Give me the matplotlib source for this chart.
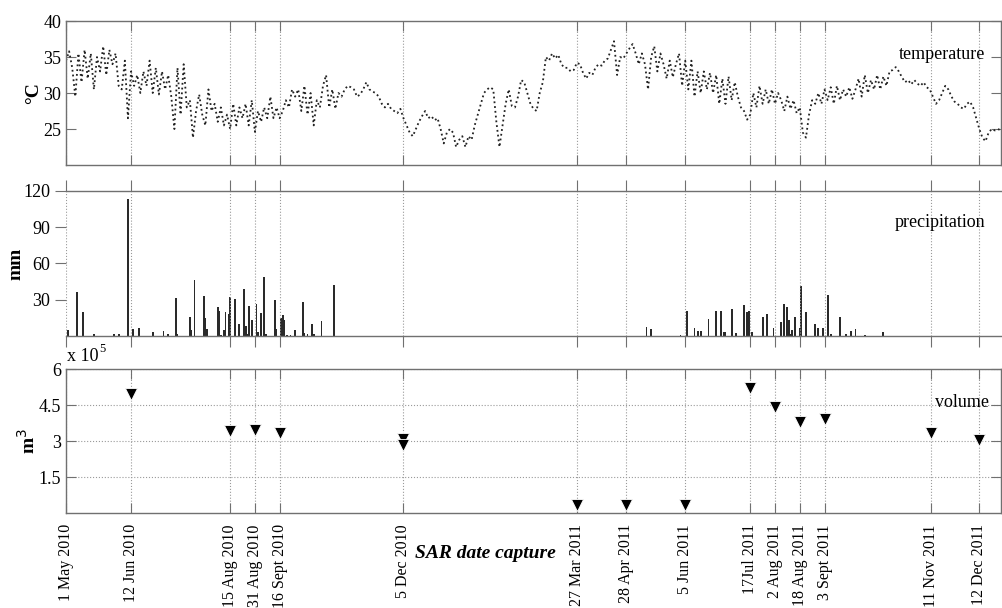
import matplotlib.pyplot as plt
import matplotlib.dates as mdates
import numpy as np
import pandas as pd

plt.rcParams['font.family'] = ['Liberation Serif', 'DejaVu Serif']

start = pd.Timestamp('2010-05-01')
end = pd.Timestamp('2011-12-26')

# SAR acquisition dates (x ticks)
tick_dates = ['2010-05-01', '2010-06-12', '2010-08-15', '2010-08-31', '2010-09-16',
              '2010-12-05', '2011-03-27', '2011-04-28', '2011-06-05', '2011-07-17',
              '2011-08-02', '2011-08-18', '2011-09-03', '2011-11-11', '2011-12-12']
tick_labels = ['1 May 2010', '12 Jun 2010', '15 Aug 2010', '31 Aug 2010', '16 Sept 2010',
               '5 Dec 2010', '27 Mar 2011', '28 Apr 2011', '5 Jun 2011', '17Jul 2011',
               '2 Aug 2011', '18 Aug 2011', '3 Sept 2011', '11 Nov 2011', '12 Dec 2011']

# temperature, one value every 2 days from 1 May 2010
temp_values = [34.5, 35.8, 33.5, 29.5, 35.5, 31.5, 36, 32, 35.5, 30.5,
               35, 33, 36.5, 32.5, 36, 34, 35.5, 31, 30.5, 34.5,
               26.5, 33, 31, 32.5, 30, 33, 31, 34.5, 30, 33.5, 29.8,
               33, 30.5, 32.5, 29.5, 25, 33.5, 27, 34, 28, 29, 23.8,
               27.5, 29.8, 27, 25.5, 30.5, 27.5, 28.5, 26, 28, 25.5, 27,
               25, 28.5, 25.5, 28, 26.5, 28.5, 25.5, 29, 24.6,
               27.5, 26, 28, 26.5, 29.5, 26.5, 28, 26.5,
               27.5, 29, 28, 30.5, 29.5, 30.5,
               27.5, 31, 27, 30, 25.5, 29, 28, 31, 32.5, 28,
               30.5, 27.8, 30, 29.5, 30.5, 31, 30.8, 30.5, 29.5, 29.8,
               30.5, 31.5, 30.5, 30.2, 30, 29.5, 28.5, 28, 28.5, 27.8, 27.5,
               27.2, 27.8, 26.5, 25.5, 24.5, 24, 25, 26, 26.8, 27.5,
               26.5, 26.8, 26.2, 26.5, 25, 23, 24.5, 25, 24.5,
               22.5, 23.5, 24, 22.5, 24, 23.5,
               25.5, 27, 28.5, 30, 30.5, 30.8, 30.5, 26, 22.5,
               25.5, 28.5, 30.5, 28.2, 28, 29.5, 31.8, 31.5, 30, 28.5, 27.8,
               27.5, 30, 31.5, 35, 34.5, 35.5, 34.8, 35.3,
               34, 33.5, 33.5, 33, 33.2, 34.2, 34, 32.8, 32, 32.8, 32.5,
               33.5, 34, 33.8, 34.5, 34.8, 36, 37.2, 32.5,
               35, 34.8, 35.5, 36.2, 36.8, 35.5, 34, 35.5, 34, 30.5,
               35, 36.5, 33, 35.5, 34, 32, 34.5, 32.2, 34,
               35.5, 31, 34.5, 30.5, 34.5, 29.5, 33,
               30, 33, 30.5, 32.8, 30, 32.5, 28.5, 32, 28.5, 32.3, 29,
               31.5, 29.5, 28, 27.5, 26.3, 27,
               30, 28, 31, 28.5, 30.5, 28.5, 30.5, 28.5, 30, 29,
               27.5, 29.5, 27.8, 29, 27.2, 28, 24.5, 23.8, 27,
               29, 28.5, 30, 28.5, 30.5, 29, 30.8, 28.5, 31, 29,
               30.5, 29.5, 30.8, 29.2, 30.5, 32, 29.5, 32.5, 30, 31.8, 30.5,
               32.5, 30.5, 32.3, 31, 33, 33.2, 33.6, 33,
               32.2, 31.5, 31.8, 31.2, 31.8, 31.3, 31, 31.5, 30.8, 30.5,
               29.5, 28.5, 29, 30, 31, 30.5, 29.5,
               28.8, 28.5, 28, 27.8, 28.5, 28.8, 28,
               26.5, 25, 23.8, 23.3, 24.5, 25, 24.8, 25, 24.8]

# precipitation events: day after 1 May 2010, mm
precip_day = [1, 7, 11, 18, 31, 34, 40, 43, 47, 56, 63, 66, 71, 72,
              80, 81, 83, 89, 90, 91, 98, 99, 100, 102, 103, 105, 106, 109,
              112, 115, 116, 117, 118, 120, 123, 124, 126, 128, 129,
              135, 136, 139, 140, 141, 143, 145, 148, 153, 154, 156, 159, 160, 165, 173,
              375, 378, 397, 401, 406, 408, 410, 415, 420, 423, 425, 426, 430, 433,
              438, 440, 441, 443, 450, 453, 457, 462, 464, 466, 467, 468, 469, 471,
              474, 475, 478, 484, 486, 489, 492, 494, 500, 504, 507, 510, 516, 528]
precip_mm = [4.7, 36, 19.6, 2, 1.5, 2, 113, 6, 7, 3.5, 4.5, 1.5, 31.5, 2,
             16, 5, 46, 33, 15, 5.5, 24, 21, 1, 5, 19.5, 18, 32, 31,
             10, 39, 8, 2, 25, 13, 26.5, 3.6, 19, 48.7, 2,
             30, 6, 15, 17.5, 13, 1, 1, 5, 28.5, 2.5, 2, 10, 1.5, 12.7, 42,
             7.5, 6, 0.5, 21, 6.6, 4, 4, 14, 21, 21, 3, 3, 22, 2.5,
             26, 20, 21, 3, 16, 18, 7, 11.5, 26.5, 24, 13, 2, 5, 16,
             6.5, 41, 20, 9.7, 7, 7, 33.5, 2, 16, 1.5, 4, 6, 1, 3.3]

# volume (x 10^5 m3) at SAR dates, 5 Dec 2010 has two estimates
vol_dates = ['2010-06-12', '2010-08-15', '2010-08-31', '2010-09-16', '2010-12-05',
             '2010-12-05', '2011-03-27', '2011-04-28', '2011-06-05', '2011-07-17',
             '2011-08-02', '2011-08-18', '2011-09-03', '2011-11-11', '2011-12-12']
vol_values = [4.95, 3.41, 3.48, 3.33, 3.08, 2.84, 0.32, 0.32, 0.32, 5.21,
              4.42, 3.81, 3.9, 3.33, 3.04]

temp_x = mdates.date2num(start + pd.to_timedelta(np.arange(len(temp_values)) * 2, unit='D'))
precip_x = mdates.date2num(start + pd.to_timedelta(precip_day, unit='D'))
vol_x = mdates.date2num(pd.to_datetime(vol_dates))
tick_x = mdates.date2num(pd.to_datetime(tick_dates))

spine_col = '#707070'
grid_kw = dict(color='#9a9a9a', linestyle=':', linewidth=0.8)

fig = plt.figure(figsize=(10.02, 6.08), dpi=100)
ax1 = fig.add_axes([0.0659, 0.7286, 0.9331, 0.2368])
ax2 = fig.add_axes([0.0659, 0.4474, 0.9331, 0.2385])
ax3 = fig.add_axes([0.0659, 0.1562, 0.9331, 0.2368])

for ax in (ax1, ax2, ax3):
    ax.set_xlim(mdates.date2num(start), mdates.date2num(end))
    ax.set_xticks(tick_x)
    ax.grid(True, axis='x', **grid_kw)
    for s in ax.spines.values():
        s.set_color(spine_col)
        s.set_linewidth(1.0)
    ax.tick_params(colors=spine_col, labelcolor='black', labelsize=13, width=0.8)

# temperature
ax1.plot(temp_x, temp_values, linestyle=':', color='#222222', linewidth=1.3)
ax1.set_ylim(20, 40)
ax1.set_yticks([25, 30, 35, 40])
ax1.tick_params(direction='in', length=7, top=True, right=True, labelbottom=False)
ax1.set_ylabel('°C', fontsize=14, fontweight='bold')
ax1.yaxis.set_label_coords(-0.026, 0.5)
ax1.text(0.983, 0.77, 'temperature', transform=ax1.transAxes, ha='right', va='center', fontsize=13)

# precipitation
ax2.bar(precip_x, precip_mm, width=1.2, color='#2a2a2a', linewidth=0)
ax2.set_ylim(0, 120)
ax2.set_yticks([30, 60, 90, 120])
ax2.spines['left'].set_visible(False)
ax2.spines['right'].set_visible(False)
ax2.tick_params(direction='out', length=8, top=True, labelbottom=False)
ax2.set_ylabel('mm', fontsize=14, fontweight='bold')
ax2.yaxis.set_label_coords(-0.044, 0.5)
ax2.text(0.983, 0.78, 'precipitation', transform=ax2.transAxes, ha='right', va='center', fontsize=13)

# volume
ax3.plot(vol_x, vol_values, linestyle='none', marker='v', markersize=9,
         markerfacecolor='black', markeredgecolor='white', markeredgewidth=0.6)
ax3.set_ylim(0, 6)
ax3.set_yticks([1.5, 3, 4.5, 6])
ax3.set_yticklabels(['1.5', '3', '4.5', '6'])
ax3.grid(True, axis='y', **grid_kw)
ax3.tick_params(direction='in', length=7, top=True, right=True)
ax3.tick_params(axis='x', labelsize=11.5, pad=8)
ax3.set_xticklabels(tick_labels, rotation=90, va='top', ha='center')
ax3.set_ylabel('m$^3$', fontsize=14, fontweight='bold')
ax3.yaxis.set_label_coords(-0.029, 0.5)
ax3.text(0.987, 0.77, 'volume', transform=ax3.transAxes, ha='right', va='center', fontsize=13)
ax3.text(0.001, 1.03, 'x 10', transform=ax3.transAxes, ha='left', va='bottom', fontsize=13)
ax3.text(0.036, 1.1, '5', transform=ax3.transAxes, ha='left', va='bottom', fontsize=9)

fig.text(0.484, 0.09, 'SAR date capture', ha='center', va='center', fontsize=14,
         fontweight='bold', fontstyle='italic')

plt.savefig('out.png', dpi=100)
